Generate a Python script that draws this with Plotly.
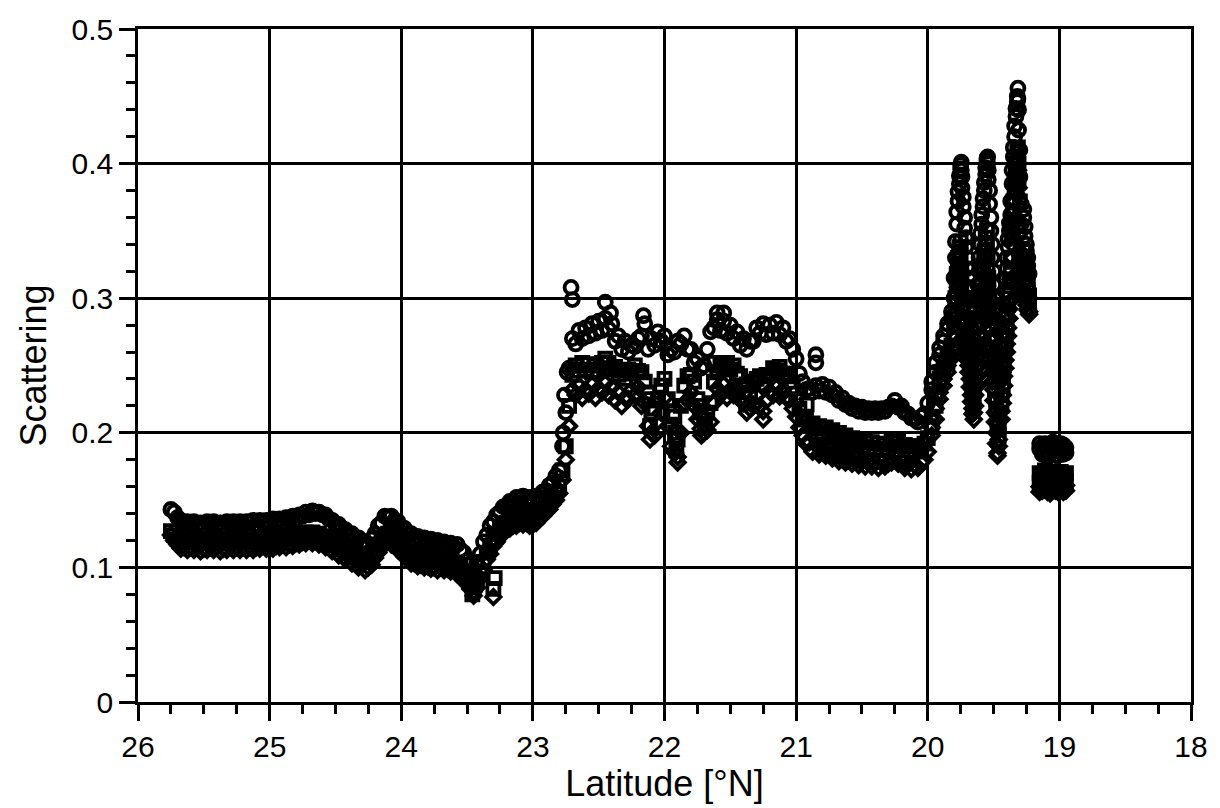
import plotly.graph_objects as go

# Along-track survey grid (degrees N), common to the three wavelengths
track_lat = [
    25.75, 25.70, 25.65, 25.60, 25.55, 25.50, 25.45, 25.40, 25.35, 25.30,
    25.25, 25.20, 25.15, 25.10, 25.05, 25.00, 24.95, 24.90, 24.85, 24.80,
    24.75, 24.70, 24.65, 24.60, 24.55, 24.50, 24.45, 24.40, 24.35, 24.30,
    24.25, 24.20, 24.15, 24.10, 24.05, 24.00, 23.95, 23.90, 23.85, 23.80,
    23.75, 23.70, 23.65, 23.60, 23.55, 23.50, 23.45, 23.40, 23.35, 23.30,
    23.25, 23.20, 23.15, 23.10, 23.05, 23.00, 22.95, 22.90, 22.85, 22.80,
    22.75, 22.70, 22.65, 22.60, 22.55, 22.50, 22.45, 22.40, 22.35, 22.30,
    22.25, 22.20, 22.15, 22.10, 22.05, 22.00, 21.95, 21.90, 21.85, 21.80,
    21.75, 21.70, 21.65, 21.60, 21.55, 21.50, 21.45, 21.40, 21.35, 21.30,
    21.25, 21.20, 21.15, 21.10, 21.05, 21.00, 20.95, 20.90, 20.85, 20.80,
    20.75, 20.70, 20.65, 20.60, 20.55, 20.50, 20.45, 20.40, 20.35, 20.30,
    20.25, 20.20, 20.15, 20.10, 20.05, 20.00,
]
track_circle = [
    0.143, 0.137, 0.133, 0.132, 0.132, 0.131, 0.132, 0.132, 0.131, 0.132,
    0.132, 0.132, 0.133, 0.132, 0.133, 0.133, 0.134, 0.134, 0.135, 0.136,
    0.138, 0.139, 0.140, 0.139, 0.136, 0.132, 0.129, 0.125, 0.122, 0.119,
    0.116, 0.125, 0.133, 0.137, 0.135, 0.130, 0.125, 0.121, 0.120, 0.119,
    0.118, 0.117, 0.116, 0.115, 0.113, 0.105, 0.098, 0.110, 0.124, 0.134,
    0.141, 0.146, 0.149, 0.151, 0.151, 0.150, 0.152, 0.157, 0.163, 0.172,
    0.215, 0.270, 0.276, 0.278, 0.281, 0.283, 0.285, 0.281, 0.272, 0.268,
    0.265, 0.270, 0.281, 0.270, 0.275, 0.272, 0.262, 0.268, 0.272, 0.262,
    0.255, 0.250, 0.275, 0.284, 0.283, 0.280, 0.275, 0.270, 0.268, 0.278,
    0.281, 0.280, 0.282, 0.278, 0.270, 0.255, 0.238, 0.233, 0.235, 0.236,
    0.234, 0.230, 0.226, 0.222, 0.220, 0.219, 0.218, 0.218, 0.218, 0.219,
    0.224, 0.220, 0.214, 0.210, 0.212, 0.222,
]
track_square = [
    0.127, 0.121, 0.119, 0.119, 0.119, 0.118, 0.119, 0.119, 0.118, 0.119,
    0.119, 0.119, 0.119, 0.119, 0.120, 0.120, 0.120, 0.121, 0.121, 0.122,
    0.123, 0.124, 0.124, 0.123, 0.121, 0.118, 0.115, 0.112, 0.109, 0.106,
    0.104, 0.112, 0.121, 0.125, 0.122, 0.117, 0.112, 0.108, 0.107, 0.106,
    0.105, 0.105, 0.104, 0.103, 0.100, 0.093, 0.086, 0.097, 0.111, 0.121,
    0.128, 0.133, 0.136, 0.138, 0.138, 0.137, 0.141, 0.146, 0.152, 0.160,
    0.190, 0.243, 0.246, 0.247, 0.245, 0.246, 0.248, 0.247, 0.243, 0.240,
    0.244, 0.246, 0.238, 0.215, 0.225, 0.240, 0.205, 0.195, 0.235, 0.243,
    0.225, 0.210, 0.222, 0.245, 0.248, 0.247, 0.244, 0.235, 0.230, 0.240,
    0.236, 0.243, 0.246, 0.244, 0.238, 0.225, 0.210, 0.205, 0.203, 0.200,
    0.199, 0.197, 0.195, 0.193, 0.192, 0.190, 0.189, 0.188, 0.188, 0.187,
    0.193, 0.190, 0.187, 0.186, 0.188, 0.196,
]
track_diamond = [
    0.124, 0.117, 0.115, 0.115, 0.115, 0.114, 0.115, 0.115, 0.114, 0.115,
    0.115, 0.115, 0.115, 0.115, 0.116, 0.116, 0.116, 0.117, 0.117, 0.118,
    0.119, 0.120, 0.120, 0.119, 0.117, 0.114, 0.111, 0.108, 0.105, 0.102,
    0.100, 0.107, 0.116, 0.120, 0.117, 0.112, 0.107, 0.103, 0.102, 0.101,
    0.100, 0.100, 0.099, 0.098, 0.095, 0.088, 0.082, 0.092, 0.106, 0.116,
    0.123, 0.128, 0.131, 0.133, 0.133, 0.132, 0.136, 0.141, 0.147, 0.155,
    0.180, 0.232, 0.235, 0.232, 0.236, 0.233, 0.237, 0.234, 0.230, 0.226,
    0.232, 0.234, 0.222, 0.200, 0.208, 0.226, 0.190, 0.182, 0.222, 0.230,
    0.210, 0.200, 0.208, 0.233, 0.236, 0.232, 0.233, 0.222, 0.218, 0.228,
    0.216, 0.231, 0.234, 0.232, 0.225, 0.212, 0.198, 0.193, 0.191, 0.189,
    0.188, 0.186, 0.184, 0.182, 0.181, 0.180, 0.179, 0.178, 0.178, 0.177,
    0.183, 0.180, 0.177, 0.176, 0.178, 0.186,
]

# Intermediate samples recorded between the grid positions above
inter_lat = [
    25.725, 25.675, 25.625, 25.575, 25.525, 25.475, 25.425, 25.375, 25.325, 25.275,
    25.225, 25.175, 25.125, 25.075, 25.025, 24.975, 24.925, 24.875, 24.825, 24.775,
    24.725, 24.675, 24.625, 24.575, 24.525, 24.475, 24.425, 24.375, 24.325, 24.275,
    24.225, 24.175, 24.125, 24.075, 24.025, 23.975, 23.925, 23.875, 23.825, 23.775,
    23.725, 23.675, 23.625, 23.575, 23.525, 23.475, 23.425, 23.375, 23.325, 23.275,
    23.225, 23.175, 23.125, 23.075, 23.025, 22.975, 22.925, 22.875, 22.825, 22.775,
    22.725, 22.675, 22.625, 22.575, 22.525, 22.475, 22.425, 22.375, 22.325, 22.275,
    22.225, 22.175, 22.125, 22.075, 22.025, 21.975, 21.925, 21.875, 21.825, 21.775,
    21.725, 21.675, 21.625, 21.575, 21.525, 21.475, 21.425, 21.375, 21.325, 21.275,
    21.225, 21.175, 21.125, 21.075, 21.025, 20.975, 20.925, 20.875, 20.825, 20.775,
    20.725, 20.675, 20.625, 20.575, 20.525, 20.475, 20.425, 20.375, 20.325, 20.275,
    20.225, 20.175, 20.125, 20.075, 20.025,
]
inter_circle = [
    0.141, 0.135, 0.134, 0.134, 0.133, 0.134, 0.134, 0.133, 0.134, 0.134,
    0.134, 0.134, 0.135, 0.135, 0.135, 0.136, 0.136, 0.137, 0.138, 0.139,
    0.141, 0.142, 0.141, 0.139, 0.135, 0.132, 0.128, 0.125, 0.122, 0.119,
    0.121, 0.131, 0.138, 0.138, 0.134, 0.129, 0.125, 0.123, 0.122, 0.121,
    0.120, 0.119, 0.118, 0.117, 0.111, 0.102, 0.103, 0.119, 0.131, 0.139,
    0.145, 0.149, 0.152, 0.153, 0.152, 0.153, 0.156, 0.161, 0.168, 0.190,
    0.248, 0.266, 0.270, 0.272, 0.274, 0.276, 0.277, 0.268, 0.262, 0.260,
    0.264, 0.272, 0.262, 0.265, 0.268, 0.258, 0.260, 0.266, 0.262, 0.252,
    0.248, 0.262, 0.278, 0.276, 0.274, 0.270, 0.265, 0.262, 0.268, 0.274,
    0.273, 0.274, 0.273, 0.268, 0.262, 0.244, 0.232, 0.230, 0.231, 0.230,
    0.228, 0.224, 0.221, 0.218, 0.216, 0.215, 0.215, 0.215, 0.216, 0.220,
    0.219, 0.215, 0.211, 0.208, 0.214,
]
inter_square = [
    0.124, 0.121, 0.121, 0.121, 0.120, 0.121, 0.121, 0.120, 0.121, 0.121,
    0.121, 0.121, 0.121, 0.122, 0.122, 0.122, 0.123, 0.123, 0.124, 0.125,
    0.126, 0.126, 0.125, 0.123, 0.120, 0.117, 0.114, 0.111, 0.108, 0.106,
    0.108, 0.117, 0.124, 0.124, 0.120, 0.115, 0.110, 0.109, 0.108, 0.107,
    0.107, 0.106, 0.105, 0.102, 0.097, 0.090, 0.091, 0.104, 0.116, 0.125,
    0.131, 0.135, 0.138, 0.140, 0.139, 0.140, 0.144, 0.150, 0.156, 0.172,
    0.220, 0.250, 0.252, 0.251, 0.250, 0.252, 0.252, 0.249, 0.246, 0.247,
    0.250, 0.245, 0.230, 0.218, 0.235, 0.225, 0.212, 0.220, 0.242, 0.238,
    0.220, 0.215, 0.238, 0.250, 0.252, 0.250, 0.242, 0.236, 0.238, 0.242,
    0.243, 0.248, 0.249, 0.244, 0.233, 0.218, 0.210, 0.207, 0.205, 0.204,
    0.202, 0.200, 0.198, 0.196, 0.195, 0.194, 0.193, 0.192, 0.191, 0.194,
    0.195, 0.191, 0.190, 0.190, 0.192,
]
inter_diamond = [
    0.120, 0.114, 0.113, 0.113, 0.112, 0.113, 0.113, 0.112, 0.113, 0.113,
    0.113, 0.113, 0.113, 0.114, 0.114, 0.114, 0.115, 0.115, 0.116, 0.117,
    0.118, 0.118, 0.117, 0.115, 0.112, 0.109, 0.106, 0.103, 0.100, 0.098,
    0.102, 0.111, 0.117, 0.117, 0.113, 0.108, 0.103, 0.101, 0.100, 0.099,
    0.098, 0.098, 0.097, 0.095, 0.090, 0.084, 0.085, 0.098, 0.110, 0.119,
    0.125, 0.129, 0.131, 0.132, 0.131, 0.133, 0.138, 0.143, 0.150, 0.165,
    0.205, 0.228, 0.226, 0.229, 0.226, 0.230, 0.228, 0.224, 0.220, 0.225,
    0.228, 0.220, 0.205, 0.198, 0.215, 0.205, 0.186, 0.200, 0.224, 0.220,
    0.203, 0.202, 0.222, 0.228, 0.226, 0.228, 0.225, 0.215, 0.220, 0.220,
    0.224, 0.228, 0.227, 0.226, 0.218, 0.204, 0.192, 0.186, 0.184, 0.183,
    0.181, 0.179, 0.178, 0.177, 0.176, 0.175, 0.175, 0.174, 0.175, 0.178,
    0.177, 0.174, 0.173, 0.174, 0.180,
]

# Dense sampling through the frontal zone south of 20 N
spike_lat = [
    19.97, 19.94, 19.91, 19.88, 19.85, 19.82,
    19.80, 19.79, 19.78, 19.77, 19.76, 19.75, 19.745, 19.74, 19.73, 19.72,
    19.71, 19.70, 19.69, 19.68, 19.67, 19.66, 19.65, 19.64,
    19.62, 19.61, 19.60, 19.59, 19.58, 19.57, 19.56, 19.55, 19.545, 19.54,
    19.53, 19.52, 19.51, 19.50, 19.49, 19.48, 19.47, 19.46,
    19.44, 19.43, 19.42, 19.41, 19.40, 19.39, 19.38, 19.37,
    19.36, 19.35, 19.34, 19.33, 19.32, 19.315, 19.31, 19.30, 19.29,
    19.27, 19.26, 19.25, 19.24, 19.23,
]
spike_circle = [
    0.232, 0.245, 0.258, 0.268, 0.277, 0.285,
    0.300, 0.330, 0.355, 0.372, 0.385, 0.396, 0.401, 0.390, 0.375, 0.360,
    0.345, 0.330, 0.315, 0.300, 0.285, 0.270, 0.260, 0.280,
    0.300, 0.320, 0.340, 0.355, 0.368, 0.380, 0.392, 0.402, 0.405, 0.395,
    0.380, 0.360, 0.340, 0.320, 0.300, 0.280, 0.260, 0.245,
    0.240, 0.262, 0.285, 0.305, 0.322, 0.338, 0.350, 0.362,
    0.385, 0.405, 0.420, 0.435, 0.446, 0.456, 0.440, 0.410, 0.370,
    0.366, 0.353, 0.340, 0.330, 0.318,
]
spike_circle_b = [
    0.238, 0.252, 0.263, 0.272, 0.281, 0.290,
    0.315, 0.342, 0.364, 0.379, 0.391, 0.399, 0.395, 0.382, 0.368, 0.352,
    0.338, 0.322, 0.308, 0.292, 0.278, 0.265, 0.270, 0.290,
    0.310, 0.330, 0.348, 0.362, 0.374, 0.386, 0.397, 0.404, 0.400, 0.388,
    0.370, 0.350, 0.330, 0.310, 0.290, 0.270, 0.252, 0.238,
    0.250, 0.274, 0.295, 0.314, 0.330, 0.344, 0.356, 0.372,
    0.395, 0.412, 0.428, 0.441, 0.450, 0.448, 0.425, 0.390, 0.355,
    0.360, 0.346, 0.335, 0.324, 0.300,
]
spike_square = [
    0.205, 0.220, 0.235, 0.245, 0.252, 0.260,
    0.270, 0.290, 0.310, 0.325, 0.335, 0.342, 0.320, 0.300, 0.290, 0.280,
    0.272, 0.265, 0.262, 0.255, 0.245, 0.235, 0.225, 0.240,
    0.255, 0.270, 0.290, 0.305, 0.318, 0.330, 0.340, 0.350, 0.330, 0.315,
    0.300, 0.285, 0.270, 0.255, 0.240, 0.225, 0.210, 0.205,
    0.220, 0.235, 0.250, 0.265, 0.280, 0.295, 0.305, 0.318,
    0.345, 0.365, 0.380, 0.395, 0.405, 0.412, 0.400, 0.372, 0.330,
    0.335, 0.325, 0.318, 0.310, 0.302,
]
spike_square_b = [
    0.212, 0.228, 0.240, 0.248, 0.256, 0.265,
    0.280, 0.300, 0.318, 0.330, 0.338, 0.332, 0.310, 0.295, 0.285, 0.276,
    0.268, 0.262, 0.258, 0.250, 0.240, 0.230, 0.232, 0.248,
    0.262, 0.280, 0.298, 0.312, 0.324, 0.335, 0.345, 0.340, 0.322, 0.308,
    0.292, 0.278, 0.262, 0.248, 0.232, 0.218, 0.205, 0.198,
    0.228, 0.242, 0.258, 0.272, 0.288, 0.300, 0.312, 0.330,
    0.355, 0.372, 0.388, 0.400, 0.408, 0.405, 0.388, 0.350, 0.320,
    0.330, 0.322, 0.314, 0.306, 0.296,
]
spike_diamond = [
    0.198, 0.210, 0.225, 0.235, 0.245, 0.255,
    0.262, 0.280, 0.298, 0.308, 0.318, 0.325, 0.300, 0.285, 0.275, 0.268,
    0.262, 0.258, 0.250, 0.240, 0.228, 0.218, 0.210, 0.220,
    0.235, 0.250, 0.265, 0.280, 0.292, 0.300, 0.310, 0.318, 0.300, 0.288,
    0.270, 0.258, 0.245, 0.232, 0.215, 0.200, 0.185, 0.190,
    0.210, 0.222, 0.235, 0.248, 0.260, 0.272, 0.285, 0.298,
    0.330, 0.350, 0.365, 0.378, 0.388, 0.395, 0.382, 0.355, 0.315,
    0.318, 0.305, 0.298, 0.292, 0.290,
]
spike_diamond_b = [
    0.204, 0.218, 0.230, 0.240, 0.250, 0.258,
    0.270, 0.290, 0.303, 0.313, 0.322, 0.312, 0.292, 0.280, 0.271, 0.265,
    0.260, 0.254, 0.245, 0.234, 0.223, 0.214, 0.215, 0.228,
    0.242, 0.258, 0.272, 0.286, 0.296, 0.305, 0.314, 0.309, 0.294, 0.279,
    0.264, 0.251, 0.238, 0.224, 0.208, 0.192, 0.183, 0.195,
    0.216, 0.228, 0.242, 0.254, 0.266, 0.278, 0.292, 0.314,
    0.340, 0.358, 0.372, 0.383, 0.392, 0.388, 0.368, 0.335, 0.305,
    0.312, 0.300, 0.295, 0.291, 0.288,
]

# Station occupied near 19 N
station_lat = [19.15, 19.13, 19.11, 19.09, 19.07, 19.05, 19.03, 19.01, 18.99, 18.97, 18.95]
station_circle = [0.188, 0.184, 0.192, 0.182, 0.189, 0.193, 0.183, 0.190, 0.192, 0.184, 0.189]
station_circle_b = [0.192, 0.190, 0.185, 0.191, 0.184, 0.186, 0.192, 0.183, 0.186, 0.191, 0.185]
station_square = [0.170, 0.164, 0.172, 0.162, 0.168, 0.171, 0.163, 0.169, 0.166, 0.162, 0.170]
station_square_b = [0.163, 0.169, 0.165, 0.170, 0.162, 0.166, 0.171, 0.164, 0.171, 0.168, 0.164]
station_diamond = [0.160, 0.157, 0.162, 0.156, 0.159, 0.161, 0.157, 0.160, 0.158, 0.156, 0.161]
station_diamond_b = [0.156, 0.161, 0.158, 0.160, 0.155, 0.158, 0.161, 0.156, 0.160, 0.159, 0.157]

# Isolated readings off the main track
extra_circle_lat = [22.71, 22.70, 22.45, 22.41, 22.16, 21.60, 21.55, 20.85, 20.85, 22.74, 22.76, 22.77]
extra_circle = [0.308, 0.299, 0.297, 0.289, 0.287, 0.289, 0.289, 0.258, 0.252, 0.245, 0.228, 0.200]
extra_square_lat = [22.12, 22.11, 21.93, 21.92, 21.91, 21.73, 21.69, 21.38, 20.92, 22.45, 21.62,
                    23.46, 23.30, 23.29]
extra_square = [0.225, 0.205, 0.215, 0.200, 0.188, 0.215, 0.205, 0.222, 0.221, 0.255, 0.252,
                0.080, 0.084, 0.092]
extra_diamond_lat = [22.11, 21.92, 21.90, 21.72, 21.25, 23.30, 23.45]
extra_diamond = [0.195, 0.185, 0.178, 0.198, 0.210, 0.078, 0.079]

FONT = "Liberation Sans, Arial, Helvetica, sans-serif"

fig = go.Figure()

series = [
    ("diamond-open", 11, [(track_lat, track_diamond), (inter_lat, inter_diamond),
                          (spike_lat, spike_diamond), (spike_lat, spike_diamond_b),
                          (station_lat, station_diamond), (station_lat, station_diamond_b),
                          (extra_diamond_lat, extra_diamond)]),
    ("square-open", 12, [(track_lat, track_square), (inter_lat, inter_square),
                         (spike_lat, spike_square), (spike_lat, spike_square_b),
                         (station_lat, station_square), (station_lat, station_square_b),
                         (extra_square_lat, extra_square)]),
    ("circle-open", 13, [(track_lat, track_circle), (inter_lat, inter_circle),
                         (spike_lat, spike_circle), (spike_lat, spike_circle_b),
                         (station_lat, station_circle), (station_lat, station_circle_b),
                         (extra_circle_lat, extra_circle)]),
]

for sym, size, parts in series:
    lat_all, val_all = [], []
    for la, va in parts:
        lat_all += la
        val_all += va
    fig.add_trace(go.Scatter(
        x=lat_all, y=val_all, mode="markers", showlegend=False,
        marker=dict(symbol=sym, size=size, color="black",
                    line=dict(width=3.8, color="black")),
    ))

axis_common = dict(
    showgrid=True, gridcolor="black", gridwidth=2.5,
    showline=True, linecolor="black", linewidth=2.5, mirror=True,
    ticks="outside", tickcolor="black", tickwidth=2.5, ticklen=16,
    zeroline=False,
    tickfont=dict(family=FONT, size=30, color="black"),
)

fig.update_xaxes(
    range=[26, 18], tick0=18, dtick=1,
    minor=dict(dtick=0.25, ticks="outside", ticklen=9, tickwidth=2.5,
               tickcolor="black", showgrid=False),
    title=dict(text="Latitude [°N]", font=dict(family=FONT, size=36, color="black"),
               standoff=8),
    **axis_common,
)
fig.update_yaxes(
    range=[0, 0.5], tick0=0, dtick=0.1,
    minor=dict(dtick=0.02, ticks="outside", ticklen=9, tickwidth=2.5,
               tickcolor="black", showgrid=False),
    title=dict(text="Scattering", font=dict(family=FONT, size=36, color="black"),
               standoff=14),
    **axis_common,
)

fig.update_layout(
    width=1220, height=808,
    margin=dict(l=138, r=25, t=23, b=106),
    paper_bgcolor="white", plot_bgcolor="white",
)

fig.write_html("out.html")
